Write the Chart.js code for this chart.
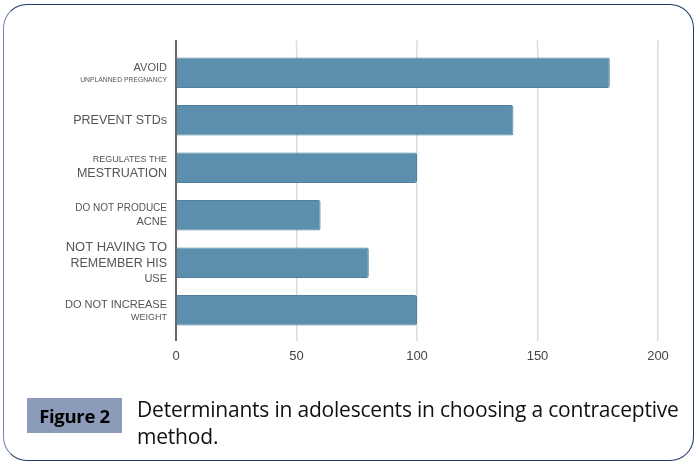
<!DOCTYPE html>
<html>
<head>
<meta charset="utf-8">
<script src="https://cdn.jsdelivr.net/npm/chart.js@4.4.1/dist/chart.umd.min.js"></script>
<style>
  body { margin: 0; background: #fff; width: 697px; height: 461px; overflow: hidden; position: relative; }
  #wrap { position: absolute; left: 0; top: 0; width: 697px; height: 380px; }
  #frame {
    position: absolute; left: 3px; top: 4px; width: 689px; height: 455px;
    border: 1.5px solid #1f3b6b; border-left-color: #6e84aa;
    border-radius: 24px; pointer-events: none;
  }
  #figtag {
    position: absolute; left: 27px; top: 398px; width: 95px; height: 35px;
    background: #8d9bbb; color: #000; font: bold 18.5px "Open Sans", sans-serif;
    line-height: 35px; text-align: center; letter-spacing: -0.3px;
  }
  #caption {
    position: absolute; left: 137px; top: 396px; width: 556px;
    font: 21px "Open Sans", sans-serif; color: #111; line-height: 27px;
    letter-spacing: -0.2px;
  }
</style>
</head>
<body>
<div id="wrap"><canvas id="chart"></canvas></div>
<div id="frame"></div>
<div id="figtag">Figure 2</div>
<div id="caption">Determinants in adolescents in choosing a contraceptive method.</div>
<script>
// categories, each one split in the lines shown on the axis
const categories = [
    ['AVOID', 'UNPLANNED PREGNANCY'],
    ['PREVENT STDs'],
    ['REGULATES THE', 'MESTRUATION'],
    ['DO NOT PRODUCE', 'ACNE'],
    ['NOT HAVING TO', 'REMEMBER HIS', 'USE'],
    ['DO NOT INCREASE', 'WEIGHT']
];
const values = [180, 140, 100, 60, 80, 100];
const xTicks = [0, 50, 100, 150, 200];

// font size of every label line (style only)
const labelSizes = [[11, 6.8], [12.5], [9, 12.5], [10, 11], [13, 12.5, 11], [11, 9]];

// draws the axis labels line by line and the axis line itself
const axisPlugin = {
    id: 'axisPlugin',
    beforeDatasetsDraw(c) {
        const ctx = c.ctx, area = c.chartArea, xs = c.scales.x;
        ctx.save();
        ctx.strokeStyle = '#dcdcdc';
        ctx.lineWidth = 1.5;
        xTicks.forEach(v => {
            const x = xs.getPixelForValue(v);
            ctx.beginPath();
            ctx.moveTo(x, area.top - 9);
            ctx.lineTo(x, area.top);
            ctx.stroke();
        });
        ctx.restore();
    },
    afterDraw(c) {
        const ctx = c.ctx, area = c.chartArea, ys = c.scales.y;
        ctx.save();
        ctx.strokeStyle = '#666';
        ctx.lineWidth = 2;
        ctx.beginPath();
        ctx.moveTo(area.left, area.top - 9);
        ctx.lineTo(area.left, area.bottom + 7);
        ctx.stroke();

        ctx.fillStyle = '#555';
        ctx.textAlign = 'right';
        ctx.textBaseline = 'middle';
        categories.forEach((lines, i) => {
            const sizes = labelSizes[i];
            const heights = sizes.map(s => s * 1.28);
            const total = heights.reduce((a, b) => a + b, 0);
            let y = ys.getPixelForValue(i) - total / 2;
            lines.forEach((txt, j) => {
                ctx.font = sizes[j] + 'px "Liberation Sans", Arial, sans-serif';
                ctx.fillText(txt, area.left - 9, y + heights[j] / 2);
                y += heights[j];
            });
        });
        ctx.restore();
    }
};

new Chart(document.getElementById('chart'), {
    type: 'bar',
    data: {
        labels: categories,
        datasets: [{
            data: values,
            backgroundColor: '#5b8fad',
            borderColor: '#4f809e',
            borderWidth: 1,
            borderRadius: 2,
            borderSkipped: 'start',
            barPercentage: 0.64,
            categoryPercentage: 1
        }]
    },
    options: {
        indexAxis: 'y',
        responsive: true,
        maintainAspectRatio: false,
        animation: false,
        layout: { padding: { left: 0, right: 39, top: 49, bottom: 0 } },
        plugins: { legend: { display: false }, tooltip: { enabled: false } },
        scales: {
            x: {
                min: 0,
                max: 200,
                afterBuildTicks: s => { s.ticks = xTicks.map(v => ({ value: v })); },
                afterFit: s => { s.height = 46; },
                grid: { color: '#dcdcdc', lineWidth: 1.5, tickLength: 7 },
                border: { display: false },
                ticks: {
                    padding: 8,
                    color: '#444',
                    font: { family: '"Liberation Sans", Arial, sans-serif', size: 13 }
                }
            },
            y: {
                afterFit: s => { s.width = 176; },
                grid: { display: false },
                border: { display: false },
                ticks: { display: false }
            }
        }
    },
    plugins: [axisPlugin]
});
</script>
</body>
</html>
